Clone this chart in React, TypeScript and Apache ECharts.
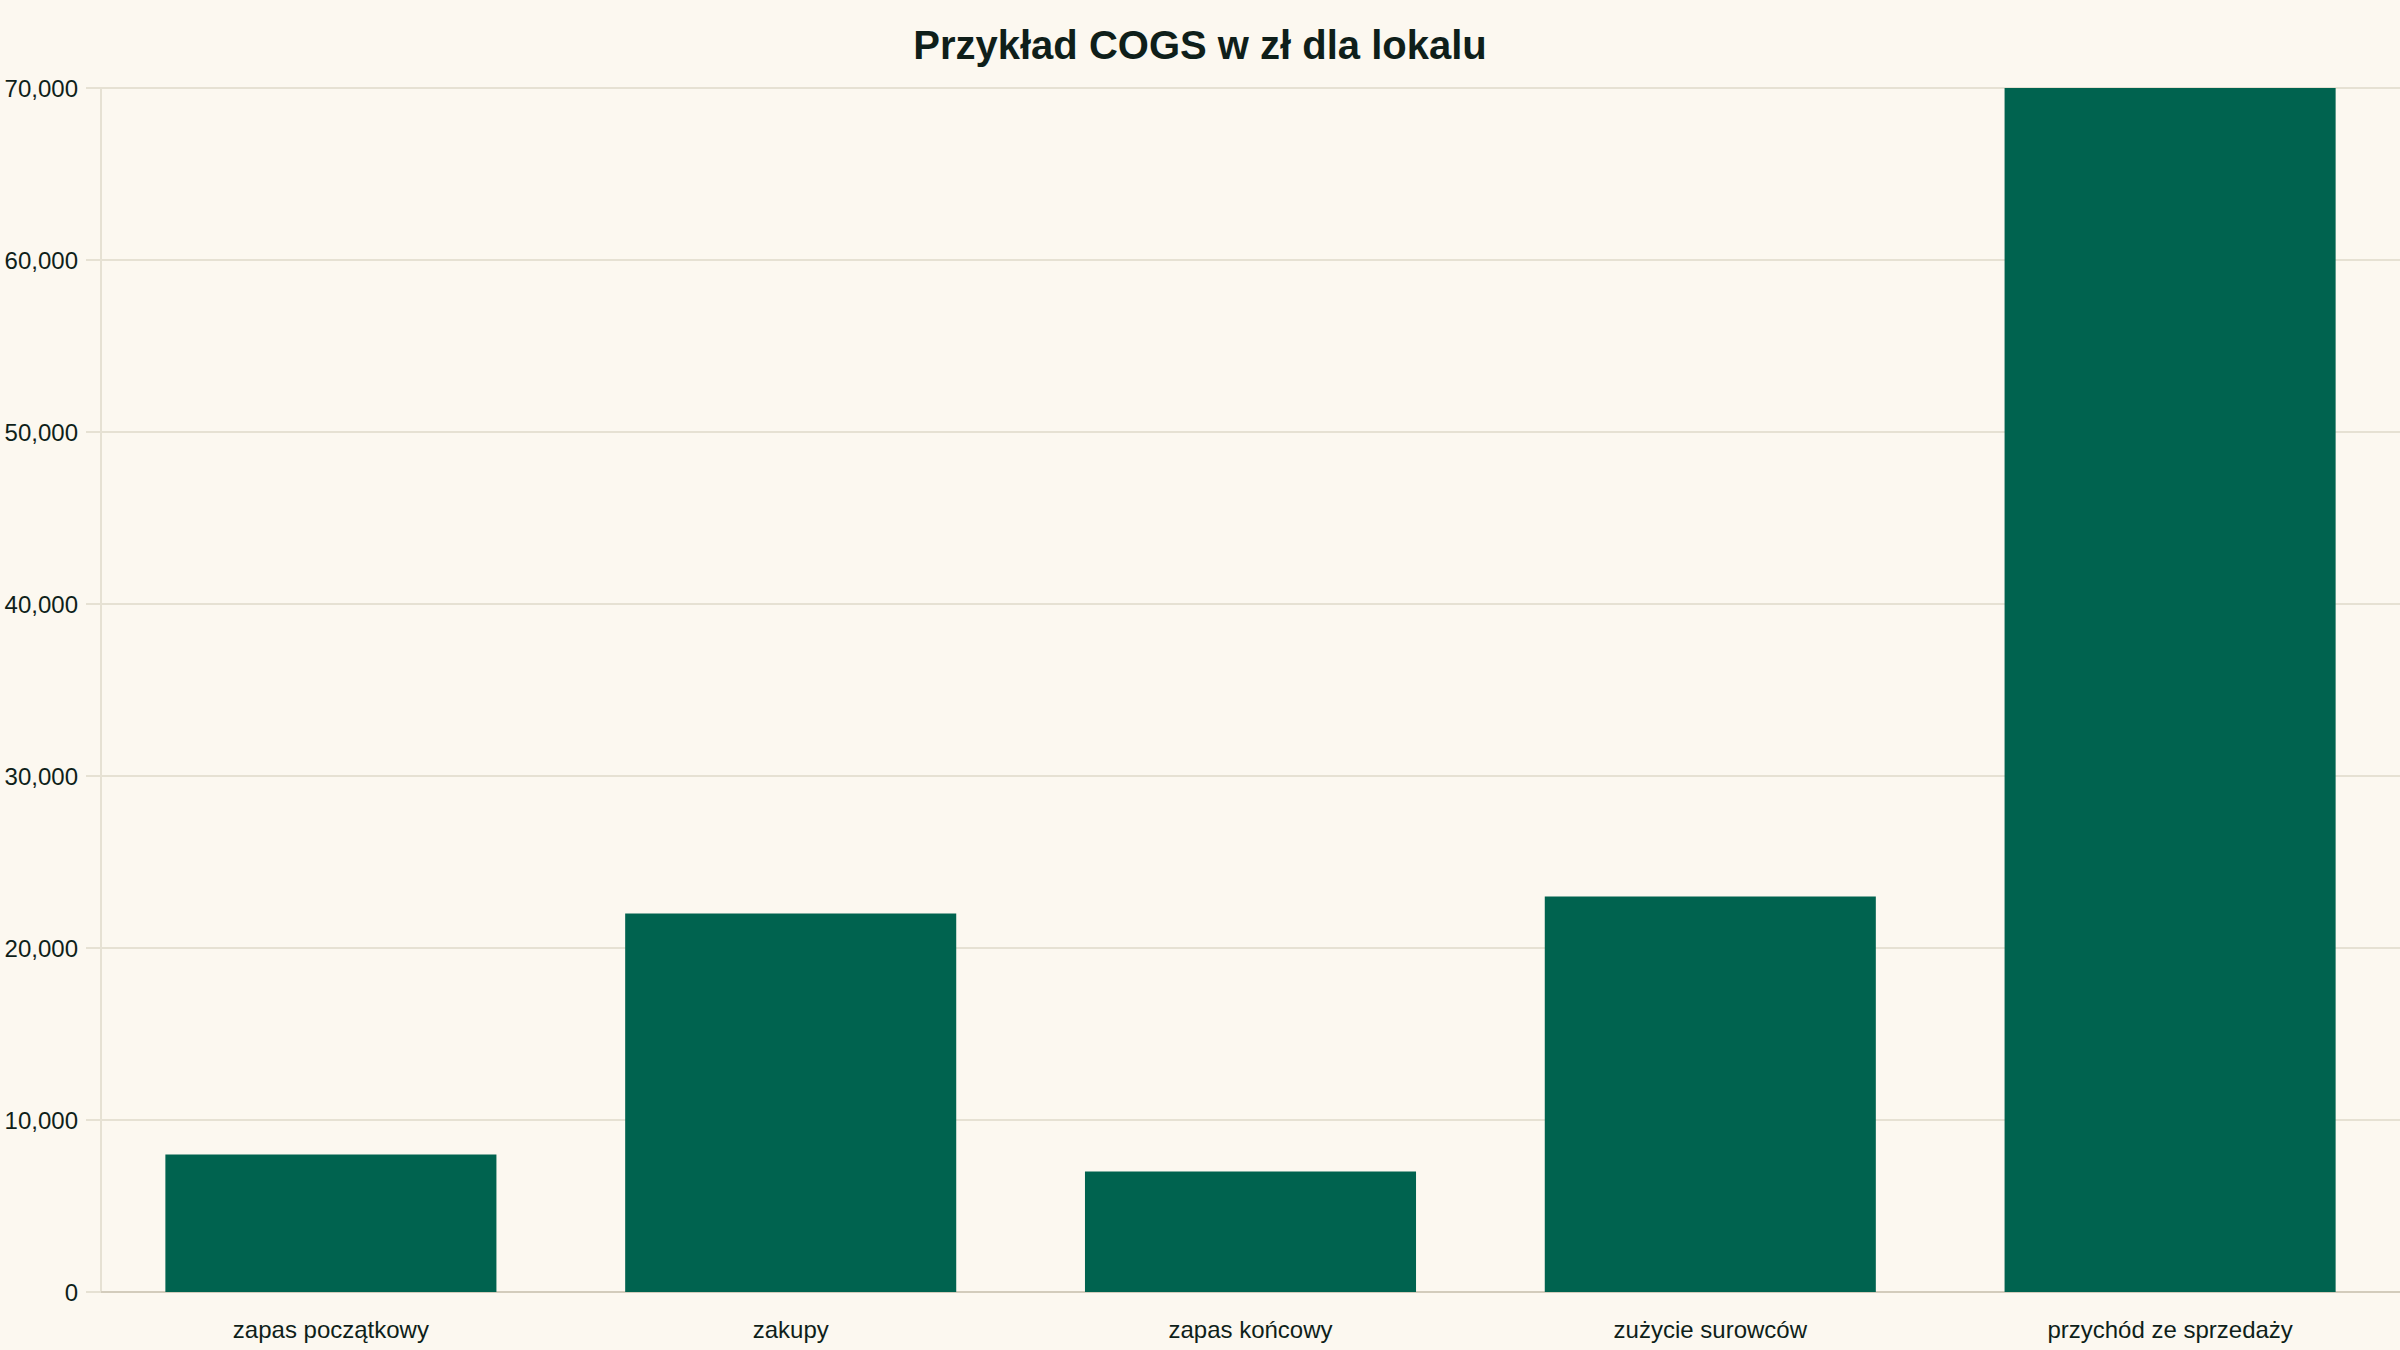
import { useEffect, useRef } from "react";
import * as echarts from "echarts";

const categories = [
  "zapas początkowy",
  "zakupy",
  "zapas końcowy",
  "zużycie surowców",
  "przychód ze sprzedaży",
];
const values = [8000, 22000, 7000, 23000, 70000];
const yTicks = [0, 10000, 20000, 30000, 40000, 50000, 60000, 70000];

const BG = "#fcf8f0";
const BAR = "#00634f";
const GRID = "#e6e1d3";
const AXIS = "#d3ccbc";
const TEXT = "#0f1f1a";
const FONT = "'Liberation Sans', Arial, sans-serif";

export default function App() {
  const ref = useRef<HTMLDivElement>(null);

  useEffect(() => {
    document.body.style.margin = "0";
    const el = ref.current;
    if (!el) return;
    const chart = echarts.init(el, undefined, { renderer: "svg" });
    chart.setOption({
      animation: false,
      backgroundColor: BG,
      textStyle: { fontFamily: FONT },
      title: {
        text: "Przykład COGS w zł dla lokalu",
        left: "center",
        top: 20,
        textStyle: { color: TEXT, fontSize: 40, fontWeight: "bold", fontFamily: FONT },
      },
      grid: { left: 101, right: 0, top: 88, bottom: 58 },
      xAxis: {
        type: "category",
        data: categories,
        axisLine: { show: true, lineStyle: { color: AXIS, width: 2 } },
        axisTick: { show: false },
        axisLabel: { color: TEXT, fontSize: 24, margin: 25, fontFamily: FONT },
      },
      yAxis: {
        type: "value",
        min: yTicks[0],
        max: yTicks[yTicks.length - 1],
        interval: 10000,
        axisLine: { show: true, lineStyle: { color: GRID, width: 2 } },
        axisTick: { show: true, length: 15, lineStyle: { color: GRID, width: 2 } },
        splitLine: { show: true, lineStyle: { color: GRID, width: 2 } },
        axisLabel: {
          color: TEXT,
          fontSize: 24,
          margin: 23,
          fontFamily: FONT,
          formatter: (v: number) => v.toLocaleString("en-US"),
        },
      },
      series: [
        {
          type: "bar",
          data: values,
          barWidth: "72%",
          itemStyle: { color: BAR },
        },
      ],
    });
    return () => chart.dispose();
  }, []);

  return <div ref={ref} style={{ width: 2400, height: 1350 }} />;
}
